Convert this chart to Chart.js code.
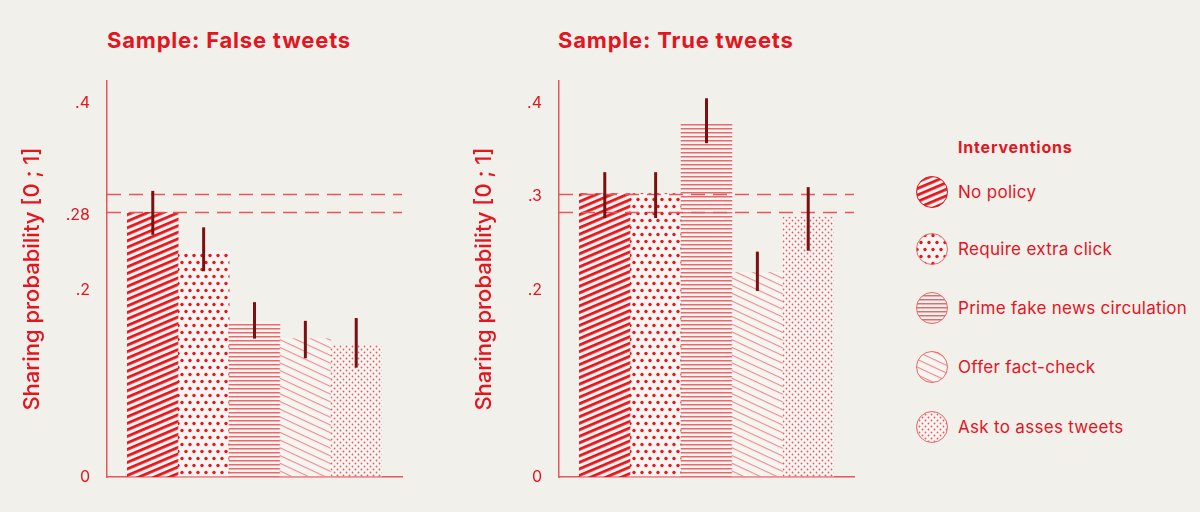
<!DOCTYPE html>
<html>
<head>
<meta charset="utf-8">
<script src="https://cdn.jsdelivr.net/npm/chart.js@4"></script>
<style>
  body { margin: 0; background: #f2f0eb; width: 1200px; height: 512px; overflow: hidden; position: relative; font-family: Inter, "Noto Sans", sans-serif; }
  .box { position: absolute; top: 0; width: 420px; height: 512px; }
  .title { position: absolute; top: 27px; font-weight: 700; font-size: 22px; color: #e3151f; letter-spacing: 0.8px; white-space: nowrap; }
  #legend { position: absolute; left: 915px; top: 0; }
  #legend .head { position: absolute; left: 43px; top: 137px; font-weight: 700; font-size: 16px; letter-spacing: 0.8px; color: #e3151f; white-space: nowrap; }
  #legend .item { position: absolute; left: 0; height: 34px; white-space: nowrap; }
  #legend .item canvas { position: absolute; left: 0; top: 0; }
  #legend .item span { position: absolute; left: 43px; top: 7px; font-size: 17px; letter-spacing: 0.3px; color: #e3151f; }
</style>
</head>
<body>
<div class="title" style="left:107px">Sample: False tweets</div>
<div class="title" style="left:558px">Sample: True tweets</div>
<div class="box" style="left:0px"><canvas id="falseChart" width="420" height="512"></canvas></div>
<div class="box" style="left:452px"><canvas id="trueChart" width="420" height="512"></canvas></div>
<div id="legend"></div>
<script>
        const interventions = ['No policy', 'Require extra click', 'Prime fake news circulation', 'Offer fact-check', 'Ask to asses tweets'];

        const falseValues = [0.283, 0.242, 0.165, 0.148, 0.141];
        const falseLow = [0.259, 0.220, 0.148, 0.127, 0.117];
        const falseHigh = [0.306, 0.267, 0.187, 0.167, 0.170];
        const falseTicks = [0, 0.2, 0.28, 0.4];

        const trueValues = [0.303, 0.303, 0.378, 0.219, 0.278];
        const trueLow = [0.277, 0.277, 0.357, 0.199, 0.242];
        const trueHigh = [0.326, 0.326, 0.405, 0.241, 0.310];
        const trueTicks = [0, 0.2, 0.3, 0.4];

        const referenceLines = [0.283, 0.303];

        const RED = '#e3151f';
        const AXIS = '#e4575c';

        function makePattern(kind) {
            const c = document.createElement('canvas');
            const ctx = c.getContext('2d');
            let angle = 0;
            if (kind === 0 || kind === 3 || kind === 2) {
                // stripes: built horizontal, rotated afterwards
                const period = kind === 0 ? 6 : (kind === 3 ? 7.5 : 4);
                c.width = 20; c.height = period;
                ctx.fillStyle = 'rgba(255,255,255,0.35)';
                ctx.fillRect(0, 0, c.width, c.height);
                ctx.fillStyle = kind === 0 ? '#e8141c' : (kind === 3 ? '#ee8a8c' : '#e9686c');
                ctx.fillRect(0, 0, c.width, kind === 0 ? 2.8 : (kind === 3 ? 1.1 : 1.5));
                angle = kind === 0 ? -23 : (kind === 3 ? 25 : 0);
            } else if (kind === 1) {
                c.width = 8; c.height = 14;
                ctx.fillStyle = 'rgba(255,255,255,0.35)';
                ctx.fillRect(0, 0, c.width, c.height);
                ctx.fillStyle = '#e8141c';
                [[2, 3.5], [6, 10.5]].forEach(p => { ctx.beginPath(); ctx.arc(p[0], p[1], 1.7, 0, Math.PI * 2); ctx.fill(); });
            } else {
                c.width = 6; c.height = 6;
                ctx.fillStyle = 'rgba(255,255,255,0.35)';
                ctx.fillRect(0, 0, c.width, c.height);
                ctx.fillStyle = '#ea5a5f';
                [[1.5, 1.5], [4.5, 4.5]].forEach(p => { ctx.beginPath(); ctx.arc(p[0], p[1], 0.9, 0, Math.PI * 2); ctx.fill(); });
            }
            const pat = ctx.createPattern(c, 'repeat');
            if (angle) pat.setTransform(new DOMMatrix().rotate(angle));
            return pat;
        }

        const patterns = interventions.map((_, i) => makePattern(i));

        const overlayPlugin = {
            id: 'overlay',
            afterDatasetsDraw(chart, args, opts) {
                const ctx = chart.ctx;
                const area = chart.chartArea;
                const y = chart.scales.y;
                ctx.save();
                ctx.strokeStyle = AXIS;
                ctx.lineWidth = 1.5;
                ctx.setLineDash([14, 8]);
                referenceLines.forEach(v => {
                    const py = Math.round(y.getPixelForValue(v)) + 0.5;
                    ctx.beginPath();
                    ctx.moveTo(area.left, py);
                    ctx.lineTo(area.right, py);
                    ctx.stroke();
                });
                ctx.setLineDash([]);
                ctx.strokeStyle = '#7a1010';
                ctx.lineWidth = 3;
                const meta = chart.getDatasetMeta(0);
                meta.data.forEach((bar, i) => {
                    ctx.beginPath();
                    ctx.moveTo(bar.x, y.getPixelForValue(opts.low[i]));
                    ctx.lineTo(bar.x, y.getPixelForValue(opts.high[i]));
                    ctx.stroke();
                });
                ctx.restore();
            }
        };

        function fmt(v) {
            if (v === 0) return '0';
            return String(v).replace(/^0/, '');
        }

        function buildChart(id, values, low, high, tickVals) {
            new Chart(document.getElementById(id), {
                type: 'bar',
                data: {
                    datasets: [{
                        label: 'Sharing probability',
                        data: values.map((v, i) => ({ x: i, y: v })),
                        backgroundColor: patterns,
                        borderWidth: 0,
                        barPercentage: 1,
                        categoryPercentage: 1
                    }]
                },
                options: {
                    responsive: false,
                    animation: false,
                    layout: { padding: { left: 0, right: 18, top: 81, bottom: 35 } },
                    plugins: {
                        legend: { display: false },
                        tooltip: { enabled: false },
                        overlay: { low, high }
                    },
                    scales: {
                        x: {
                            type: 'linear',
                            offset: false,
                            min: -0.9,
                            max: 4.9,
                            ticks: { display: false },
                            grid: { display: false, drawTicks: false },
                            border: { display: true, color: AXIS, width: 1.5 },
                            afterBuildTicks: s => { s.ticks = values.map((v, i) => ({ value: i })); },
                            afterFit: s => { s.height = 0; }
                        },
                        y: {
                            min: 0,
                            max: 0.4235,
                            grid: { display: false, drawTicks: false },
                            border: { display: true, color: AXIS, width: 1.5 },
                            afterBuildTicks: s => { s.ticks = tickVals.map(v => ({ value: v })); },
                            afterFit: s => { s.width = 107; },
                            ticks: {
                                color: RED,
                                padding: 17,
                                font: { family: 'Inter', size: 16 },
                                callback: v => fmt(v)
                            },
                            title: {
                                display: true,
                                text: 'Sharing probability [0 ; 1]',
                                color: RED,
                                font: { family: 'Inter', size: 22, weight: '500' },
                                padding: { top: 19, bottom: 0 }
                            }
                        }
                    }
                },
                plugins: [overlayPlugin]
            });
        }

        buildChart('falseChart', falseValues, falseLow, falseHigh, falseTicks);
        buildChart('trueChart', trueValues, trueLow, trueHigh, trueTicks);

        // legend
        const legendTops = [175, 232, 291, 350, 410];
        const legend = document.getElementById('legend');
        legend.innerHTML = '<div class="head">Interventions</div>';
        interventions.forEach((name, i) => {
            const item = document.createElement('div');
            item.className = 'item';
            item.style.top = legendTops[i] + 'px';
            const c = document.createElement('canvas');
            c.width = 34; c.height = 34;
            const ctx = c.getContext('2d');
            ctx.beginPath();
            ctx.arc(17, 17, 15.5, 0, Math.PI * 2);
            ctx.save();
            ctx.clip();
            ctx.fillStyle = patterns[i];
            ctx.fillRect(0, 0, 34, 34);
            ctx.restore();
            ctx.strokeStyle = i === 0 ? RED : '#e9686c';
            ctx.lineWidth = 1;
            ctx.stroke();
            const span = document.createElement('span');
            span.textContent = name;
            item.appendChild(c);
            item.appendChild(span);
            legend.appendChild(item);
        });
</script>
</body>
</html>
